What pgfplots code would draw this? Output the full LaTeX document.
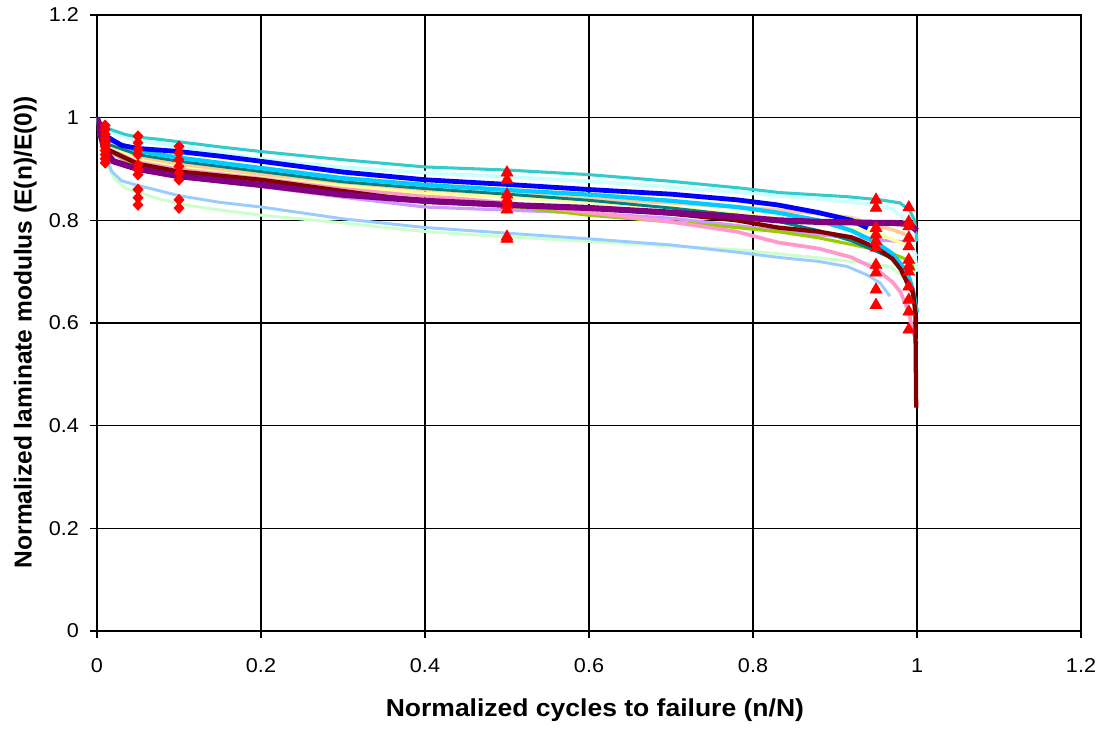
\documentclass[border=0pt]{standalone}
\usepackage{pgfplots}
\pgfplotsset{compat=1.18}
\usepackage{fontspec}
\setmainfont{Liberation Sans}
\newfontfamily\widefont[FakeStretch=1.08]{Liberation Sans}
\newfontfamily\tickfont[FakeStretch=1.08]{Liberation Sans}
\definecolor{cteal}{HTML}{33CCCC}
\definecolor{clcyan}{HTML}{CCFFFF}
\definecolor{cblue}{HTML}{0000FF}
\definecolor{csky}{HTML}{00CCFF}
\definecolor{cdteal}{HTML}{008080}
\definecolor{cpeach}{HTML}{FFCC99}
\definecolor{cyell}{HTML}{FFFF99}
\definecolor{cpink}{HTML}{FF99CC}
\definecolor{cmaroon}{HTML}{800000}
\definecolor{cpurple}{HTML}{800080}
\definecolor{clav}{HTML}{CC99FF}
\definecolor{cygreen}{HTML}{99CC00}
\definecolor{clblue}{HTML}{99CCFF}
\definecolor{clgreen}{HTML}{CCFFCC}
\begin{document}
\begin{tikzpicture}
\begin{axis}[name=ax,
  scale only axis, width=738pt, height=462pt,
  xmin=0, xmax=1.2, ymin=0, ymax=1.2,
  xtick={0,0.2,0.4,0.6,0.8,1,1.2}, ytick={0,0.2,0.4,0.6,0.8,1,1.2},
  xticklabels={0,0.2,0.4,0.6,0.8,1,1.2}, yticklabels={0,0.2,0.4,0.6,0.8,1,1.2},
  tick pos=left, tick align=outside, major tick length=5pt,
  every tick/.style={black, line width=1pt},
  axis line style={black, line width=1pt},
  grid=major, major grid style={black, line width=1pt},
  ticklabel style={font=\tickfont\fontsize{15}{18}\selectfont},
  xticklabel style={anchor=base, yshift=-26pt},
  yticklabel style={anchor=east, xshift=-5pt},
  xlabel={Normalized cycles to failure (n/N)},
  ylabel={Normalized laminate modulus (E(n)/E(0))},
  xlabel style={font=\widefont\fontsize{18.4}{22}\selectfont\bfseries, at={(axis description cs:0.506,-0.139)}, anchor=base},
  ylabel style={font=\fontsize{18.4}{22}\selectfont\bfseries, at={(axis description cs:-0.0664,0.485)}, anchor=base},
  /pgf/number format/assume math mode=true,
  clip=true,
]
% light green
\addplot[clgreen, line width=2.2pt, no markers] coordinates {
(0,1.0)(0.003,0.96)(0.01,0.915)(0.015,0.9)(0.022,0.88)(0.035,0.862)(0.05,0.855)(0.075,0.842)(0.1,0.832)(0.15,0.82)(0.2,0.81)(0.3,0.795)(0.4,0.778)(0.5,0.768)(0.6,0.759)(0.7,0.75)(0.78,0.743)(0.83,0.735)(0.88,0.727)(0.92,0.72)(0.95,0.715)(0.967,0.71)(0.98,0.695)(0.99,0.678)(0.995,0.66)};
% light blue
\addplot[clblue, line width=2.2pt, no markers] coordinates {
(0,1.0)(0.003,0.97)(0.01,0.93)(0.018,0.895)(0.03,0.877)(0.05,0.868)(0.075,0.858)(0.1,0.848)(0.15,0.835)(0.2,0.826)(0.3,0.803)(0.4,0.786)(0.5,0.775)(0.6,0.764)(0.7,0.752)(0.78,0.738)(0.83,0.728)(0.88,0.72)(0.915,0.71)(0.94,0.693)(0.955,0.678)(0.967,0.652)};
% lavender
\addplot[clav, line width=2.4pt, no markers] coordinates {
(0,1.0)(0.01,0.94)(0.05,0.9)(0.1,0.884)(0.2,0.866)(0.3,0.845)(0.4,0.826)(0.5,0.82)(0.6,0.814)(0.7,0.804)(0.78,0.79)(0.83,0.78)(0.88,0.772)(0.92,0.766)(0.95,0.762)(0.97,0.76)(0.99,0.757)(1.0,0.73)};
% yellow-green
\addplot[cygreen, line width=2.4pt, no markers] coordinates {
(0,1.0)(0.01,0.94)(0.05,0.905)(0.1,0.893)(0.2,0.876)(0.3,0.856)(0.4,0.84)(0.5,0.828)(0.6,0.81)(0.7,0.797)(0.78,0.786)(0.83,0.778)(0.88,0.766)(0.92,0.753)(0.95,0.743)(0.97,0.735)(0.99,0.722)(1.0,0.70)};
% pink
\addplot[cpink, line width=2.8pt, no markers] coordinates {
(0,1.0)(0.01,0.945)(0.05,0.918)(0.1,0.902)(0.2,0.883)(0.3,0.862)(0.4,0.848)(0.5,0.834)(0.6,0.815)(0.7,0.797)(0.78,0.778)(0.83,0.757)(0.88,0.745)(0.92,0.728)(0.95,0.705)(0.97,0.68)(0.98,0.66)(0.99,0.62)(0.995,0.585)(1.0,0.56)};
% light yellow
\addplot[cyell, line width=2.4pt, no markers] coordinates {
(0,1.0)(0.01,0.95)(0.05,0.92)(0.1,0.906)(0.2,0.888)(0.3,0.868)(0.4,0.853)(0.5,0.845)(0.6,0.835)(0.7,0.825)(0.8,0.81)(0.9,0.79)(0.95,0.775)(0.99,0.75)};
% peach
\addplot[cpeach, line width=2.8pt, no markers] coordinates {
(0,1.0)(0.01,0.955)(0.05,0.925)(0.1,0.91)(0.2,0.89)(0.3,0.874)(0.4,0.86)(0.5,0.852)(0.6,0.842)(0.7,0.834)(0.78,0.826)(0.83,0.82)(0.88,0.813)(0.92,0.805)(0.95,0.79)(0.97,0.782)(0.99,0.77)(1.0,0.76)};
% dark teal
\addplot[cdteal, line width=2.2pt, no markers] coordinates {
(0,1.0)(0.01,0.95)(0.05,0.928)(0.1,0.915)(0.2,0.895)(0.3,0.875)(0.4,0.862)(0.5,0.851)(0.6,0.839)(0.7,0.824)(0.78,0.81)(0.83,0.798)(0.88,0.78)(0.92,0.76)(0.95,0.74)(0.975,0.722)(0.99,0.70)};
% deep sky blue
\addplot[csky, line width=3.2pt, no markers] coordinates {
(0,1.0)(0.01,0.96)(0.05,0.935)(0.1,0.922)(0.2,0.902)(0.3,0.882)(0.4,0.869)(0.5,0.859)(0.6,0.85)(0.7,0.838)(0.78,0.826)(0.83,0.815)(0.88,0.80)(0.92,0.78)(0.95,0.757)(0.97,0.735)(0.98,0.715)(0.99,0.69)(0.995,0.665)(1.0,0.62)};
% light cyan
\addplot[clcyan, line width=2.8pt, no markers] coordinates {
(0,1.0)(0.01,0.975)(0.05,0.955)(0.1,0.944)(0.2,0.92)(0.3,0.903)(0.4,0.893)(0.5,0.885)(0.6,0.876)(0.7,0.865)(0.78,0.855)(0.83,0.848)(0.88,0.842)(0.92,0.835)(0.95,0.83)(0.97,0.822)(0.98,0.81)(0.99,0.79)(0.995,0.76)(1.0,0.70)};
% teal
\addplot[cteal, line width=2.3pt, no markers] coordinates {
(0,1.0)(0.003,0.99)(0.01,0.982)(0.02,0.975)(0.035,0.967)(0.05,0.962)(0.075,0.958)(0.1,0.953)(0.15,0.943)(0.2,0.934)(0.3,0.918)(0.4,0.904)(0.5,0.898)(0.6,0.889)(0.7,0.876)(0.784,0.863)(0.833,0.854)(0.915,0.846)(0.955,0.84)(0.979,0.834)(0.991,0.82)(0.997,0.80)(1.0,0.76)};
% blue
\addplot[cblue, line width=3.6pt, no markers] coordinates {
(0,1.0)(0.01,0.965)(0.03,0.946)(0.05,0.94)(0.1,0.934)(0.15,0.925)(0.2,0.915)(0.3,0.894)(0.4,0.879)(0.5,0.87)(0.6,0.86)(0.7,0.851)(0.78,0.84)(0.83,0.83)(0.88,0.815)(0.92,0.80)(0.94,0.785)};
% maroon
\addplot[cmaroon, line width=3.2pt, no markers] coordinates {
(0,1.0)(0.01,0.94)(0.05,0.91)(0.1,0.895)(0.2,0.879)(0.3,0.857)(0.4,0.836)(0.5,0.83)(0.6,0.825)(0.7,0.813)(0.78,0.80)(0.83,0.786)(0.88,0.778)(0.92,0.767)(0.95,0.747)(0.97,0.725)(0.98,0.705)(0.99,0.672)(0.995,0.66)(0.998,0.62)(0.999,0.435)};
% purple
\addplot[cpurple, line width=4.6pt, no markers] coordinates {
(0,1.0)(0.003,0.975)(0.01,0.935)(0.02,0.915)(0.05,0.9)(0.1,0.886)(0.2,0.869)(0.3,0.85)(0.4,0.838)(0.5,0.83)(0.6,0.824)(0.7,0.815)(0.78,0.807)(0.83,0.80)(0.88,0.797)(0.92,0.796)(0.95,0.795)(0.97,0.795)(0.99,0.793)(1.0,0.78)};
% diamonds
\addplot[only marks, mark=diamond*, mark size=4.1pt, mark options={xscale=1.25}, color=red, fill=red] coordinates {
(0.01,0.985)(0.01,0.977)(0.01,0.968)(0.01,0.96)(0.01,0.952)(0.01,0.944)(0.01,0.936)(0.01,0.928)(0.01,0.92)(0.01,0.912)
(0.05,0.964)(0.05,0.951)(0.05,0.938)(0.05,0.928)(0.05,0.908)(0.05,0.899)(0.05,0.889)(0.05,0.860)(0.05,0.844)(0.05,0.830)
(0.1,0.944)(0.1,0.931)(0.1,0.918)(0.1,0.905)(0.1,0.892)(0.1,0.879)(0.1,0.840)(0.1,0.824)};
% triangles
\addplot[only marks, mark=triangle*, mark size=5.2pt, color=red, fill=red] coordinates {
(0.5,0.893)(0.5,0.879)(0.5,0.850)(0.5,0.840)(0.5,0.830)(0.5,0.821)(0.5,0.768)(0.5,0.764)
(0.95,0.840)(0.95,0.824)(0.95,0.785)(0.95,0.772)(0.95,0.759)(0.95,0.747)(0.95,0.713)(0.95,0.698)(0.95,0.665)(0.95,0.635)
(0.99,0.825)(0.99,0.797)(0.99,0.788)(0.99,0.766)(0.99,0.749)(0.99,0.723)(0.99,0.71)(0.99,0.70)(0.99,0.671)(0.99,0.645)(0.99,0.622)(0.99,0.587)};
\end{axis}
\pgfresetboundingbox
\path[use as bounding box] ([xshift=-72.75pt,yshift=-72.75pt]ax.south west) rectangle ([xshift=18.75pt,yshift=11.25pt]ax.north east);
\end{tikzpicture}
\end{document}
